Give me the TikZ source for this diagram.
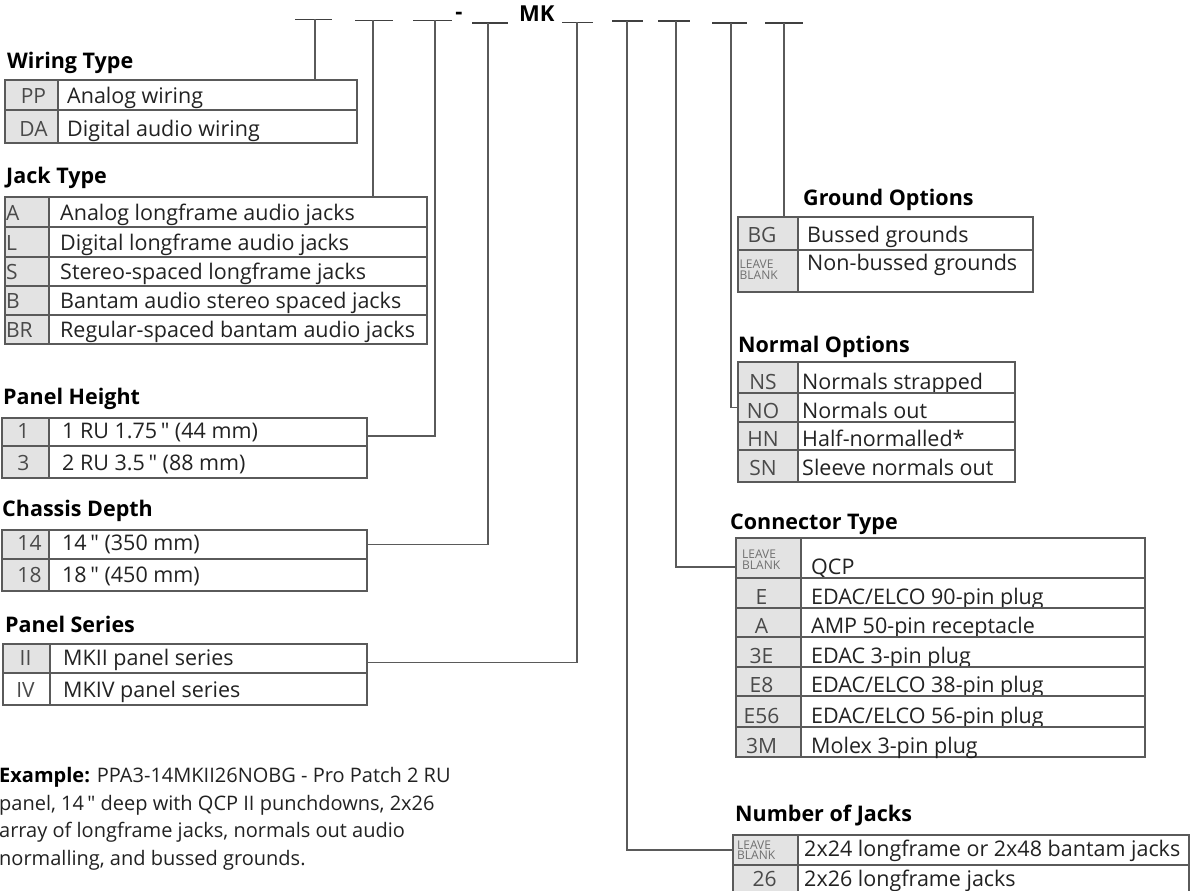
\documentclass[tikz,border=0pt]{standalone}
\usepackage{fontspec}
\setmainfont{Open Sans}[Ligatures=TeXOff]
\definecolor{linegray}{HTML}{5A5A5A}
\definecolor{codefill}{HTML}{E3E3E3}
\definecolor{codetext}{HTML}{4A4A4A}
\definecolor{desctext}{HTML}{222222}
\definecolor{lbgray}{HTML}{707070}
\tikzset{
  cell/.style={draw=linegray, line width=1.1pt, anchor=north west, inner sep=0pt, outer sep=0pt, fill=white},
  codecell/.style={fill=codefill},
  plaincell/.style={fill=white},
  codetxt/.style={anchor=base, inner sep=0pt, text=codetext, font=\fontsize{21}{24}\selectfont},
  desctxt/.style={anchor=base west, inner sep=0pt, text=desctext, font=\fontsize{21.5}{24}\selectfont},
  titletxt/.style={anchor=base west, inner sep=0pt, text=black, font=\bfseries\fontsize{21.5}{24}\selectfont},
  lbtxt/.style={anchor=west, inner sep=0pt, align=left, text=lbgray, font=\fontsize{12}{10.5}\selectfont},
  extxt/.style={anchor=base west, inner sep=0pt, text=desctext, font=\fontsize{20}{24}\selectfont},
  conn/.style={draw=linegray, line width=1.1pt},
  blankline/.style={draw=black!75, line width=1.4pt},
}
\newcommand\optrow[9]{%
  \pgfmathsetmacro\cwA{#3-#2}%
  \pgfmathsetmacro\cwB{#4-#3}%
  \pgfmathsetmacro\chh{#6-#5}%
  \node[cell,#7,minimum width=\cwA pt,minimum height=\chh pt] (#1c) at (#2,#5) {};
  \node[cell,minimum width=\cwB pt,minimum height=\chh pt] (#1d) at (#3,#5) {};
  \node[codetxt] (#1ct) at ([xshift=\codeshift pt,yshift=\rowbase pt]#1c.south) {#8};
  \node[desctxt] (#1dt) at ([xshift=\descpad pt,yshift=\rowbase pt]#1d.south west) {#9};
}
\begin{document}
\begin{tikzpicture}[x=1pt,y=-1pt]
\useasboundingbox (0,0) rectangle (1199,891);
\clip (0,0) rectangle (1199,891);
\fill[white] (0,0) rectangle (1199,891);

% ---- top code line ----
\coordinate (b1l) at (295,19.5); \coordinate (b1r) at (332,19.5); \coordinate (b1) at (315,19.5);
\coordinate (b2l) at (355,20.5); \coordinate (b2r) at (393,20.5); \coordinate (b2) at (373,20.5);
\coordinate (b3l) at (413,20.5); \coordinate (b3r) at (452,20.5); \coordinate (b3) at (435,20.5);
\coordinate (b4l) at (472,23);   \coordinate (b4r) at (508,23);   \coordinate (b4) at (488,23);
\coordinate (b5l) at (562,22.5); \coordinate (b5r) at (593,22.5); \coordinate (b5) at (577,22.5);
\coordinate (b6l) at (612,21);   \coordinate (b6r) at (643,21);   \coordinate (b6) at (627,21);
\coordinate (b7l) at (658,21);   \coordinate (b7r) at (690,21);   \coordinate (b7) at (676,21);
\coordinate (b8l) at (712,23);   \coordinate (b8r) at (747,23);   \coordinate (b8) at (731,23);
\coordinate (b9l) at (765,23);   \coordinate (b9r) at (803,23);   \coordinate (b9) at (784,23);
\foreach \i in {1,...,9} {\draw[blankline] (b\i l) -- (b\i r);}
\node[anchor=base, inner sep=0pt, font=\bfseries\fontsize{22}{24}\selectfont] (dash) at (459,20) {-};
\node[anchor=base west, inner sep=0pt, font=\bfseries\fontsize{22}{24}\selectfont] (mk) at (519,22) {MK};

% ---- Wiring Type ----
\def\rowbase{7}\def\descpad{9}\def\codeshift{2}
\node[titletxt] (wtt) at (7,69) {Wiring Type};
\optrow{wt1}{5}{58}{357}{80}{110}{codecell}{PP}{Analog wiring}
\optrow{wt2}{5}{58}{357}{110}{143}{codecell}{DA}{Digital audio wiring}

% ---- Jack Type ----
\def\rowbase{6.5}\def\descpad{11}\def\codeshift{-6}
\node[titletxt] (jtt) at (6,183) {Jack Type};
\optrow{jt1}{5}{49}{427}{197}{227}{codecell}{\makebox[30pt][l]{A}}{Analog longframe audio jacks}
\optrow{jt2}{5}{49}{427}{227}{257}{codecell}{\makebox[30pt][l]{L}}{Digital longframe audio jacks}
\optrow{jt3}{5}{49}{427}{257}{286}{codecell}{\makebox[30pt][l]{S}}{Stereo-spaced longframe jacks}
\optrow{jt4}{5}{49}{427}{286}{315}{codecell}{\makebox[30pt][l]{B}}{Bantam audio stereo spaced jacks}
\optrow{jt5}{5}{49}{427}{315}{344}{codecell}{\makebox[30pt][l]{BR}}{Regular-spaced bantam audio jacks}

% ---- Panel Height ----
\def\rowbase{8}\def\descpad{13}\def\codeshift{-2}
\node[titletxt] (pht) at (3,404) {Panel Height};
\optrow{ph1}{2}{49}{367}{418}{446}{codecell}{1}{1 RU 1.75\," (44 mm)}
\optrow{ph2}{2}{49}{367}{446}{478}{codecell}{3}{2 RU 3.5\," (88 mm)}

% ---- Chassis Depth ----
\def\rowbase{8.5}\def\descpad{13}\def\codeshift{4}
\node[titletxt] (cdt) at (2,516) {Chassis Depth};
\optrow{cd1}{2}{49}{367}{530}{559}{codecell}{14}{14\," (350 mm)}
\optrow{cd2}{2}{49}{367}{559}{591}{codecell}{18}{18\," (450 mm)}

% ---- Panel Series ----
\def\rowbase{8}\def\descpad{13}\def\codeshift{-1}
\node[titletxt] (pst) at (5,632) {Panel Series};
\optrow{ps1}{3}{50}{367}{644}{673}{codecell}{II}{MKII panel series}
\optrow{ps2}{3}{50}{367}{673}{705}{plaincell}{IV}{MKIV panel series}

% ---- Ground Options ----
\node[titletxt] (grt) at (803,205) {Ground Options};
\def\rowbase{8}\def\descpad{9}\def\codeshift{-6}
\optrow{gr1}{738}{798}{1033}{217}{250}{codecell}{BG}{Bussed grounds}
\def\rowbase{22}
\optrow{gr2}{738}{798}{1033}{250}{292}{codecell}{}{Non-bussed grounds}
\node[lbtxt] (gr2lb) at ([xshift=1.5pt,yshift=1.5pt]gr2c.west) {LEAVE\\BLANK};

% ---- Normal Options ----
\node[titletxt] (not) at (738,352) {Normal Options};
\def\descpad{4}\def\codeshift{-5}
\def\rowbase{4}
\optrow{no1}{738}{798}{1015}{362}{393}{codecell}{NS}{Normals strapped}
\optrow{no2}{738}{798}{1015}{393}{422}{codecell}{NO}{Normals out}
\optrow{no3}{738}{798}{1015}{422}{450}{codecell}{HN}{Half-normalled*}
\def\rowbase{7}
\optrow{no4}{738}{798}{1015}{450}{482}{codecell}{SN}{Sleeve normals out}

% ---- Connector Type ----
\node[titletxt] (ctt) at (730,529) {Connector Type};
\def\rowbase{4}\def\descpad{10}\def\codeshift{-7}
\optrow{ct1}{736}{801}{1145}{538}{578}{codecell}{}{QCP}
\node[lbtxt] (ct1lb) at ([xshift=6pt,yshift=-1.5pt]ct1c.west) {LEAVE\\BLANK};
\optrow{ct2}{736}{801}{1145}{578}{608}{codecell}{E}{EDAC/ELCO 90-pin plug}
\optrow{ct3}{736}{801}{1145}{608}{637}{codecell}{A}{AMP 50-pin receptacle}
\optrow{ct4}{736}{801}{1145}{637}{667}{codecell}{3E}{EDAC 3-pin plug}
\optrow{ct5}{736}{801}{1145}{667}{696}{codecell}{E8}{EDAC/ELCO 38-pin plug}
\optrow{ct6}{736}{801}{1145}{696}{727}{codecell}{E56}{EDAC/ELCO 56-pin plug}
\optrow{ct7}{736}{801}{1145}{727}{757}{codecell}{3M}{Molex 3-pin plug}

% ---- Number of Jacks ----
\node[titletxt] (njt) at (735,821) {Number of Jacks};
\def\descpad{6}\def\codeshift{-1}
\def\rowbase{9}
\optrow{nj1}{733}{798}{1189}{835}{865}{codecell}{}{2x24 longframe or 2x48 bantam jacks}
\node[lbtxt] (nj1lb) at ([xshift=4pt]nj1c.west) {LEAVE\\BLANK};
\def\rowbase{14}
\optrow{nj2}{733}{798}{1189}{865}{900}{codecell}{26}{2x26 longframe jacks}

% ---- connectors ----
\draw[conn] (b1) -- (b1 |- wt1d.north);
\draw[conn] (b2) -- (b2 |- jt1d.north);
\draw[conn] (b3) |- ([yshift=-4pt]ph1d.east);
\draw[conn] (b4) |- (cd1d.east);
\draw[conn] (b5) |- ([yshift=-4pt]ps1d.east);
\draw[conn] (b6) |- (nj1c.west);
\draw[conn] (b7) |- ([yshift=-9pt]ct1c.west);
\draw[conn] (b8) |- (no2c.west);
\draw[conn] (b9) -- (b9 |- gr1c.north);

% ---- example ----
\node[extxt] (ex1) at (-1,782) {{\bfseries\color{black}Example:} PPA3-14MKII26NOBG - Pro Patch 2 RU};
\node[extxt] (ex2) at (-1,810) {panel, 14\," deep with QCP II punchdowns, 2x26};
\node[extxt] (ex3) at (-1,837) {array of longframe jacks, normals out audio};
\node[extxt] (ex4) at (-1,865) {normalling, and bussed grounds.};
\end{tikzpicture}
\end{document}
